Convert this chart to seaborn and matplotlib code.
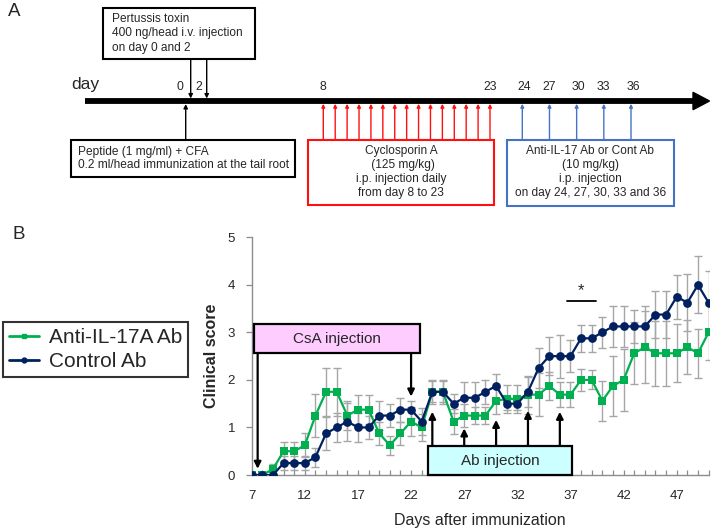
import numpy as np
import pandas as pd
import matplotlib
matplotlib.use("Agg")
import matplotlib.pyplot as plt
import seaborn as sns
from matplotlib.patches import Rectangle, Polygon
from matplotlib.lines import Line2D

# ---------------- data ----------------
days = list(range(7, 51))
anti_il17 = [0, 0, 0.125, 0.5, 0.5, 0.625, 1.25, 1.75, 1.75, 1.25, 1.375, 1.375,
             0.875, 0.625, 0.875, 1.125, 1.0, 1.75, 1.75, 1.125, 1.25, 1.25, 1.25,
             1.56, 1.6, 1.6, 1.69, 1.69, 1.875, 1.69, 1.69, 2.0, 2.0, 1.56, 1.875,
             2.0, 2.56, 2.69, 2.56, 2.56, 2.56, 2.69, 2.56, 3.0]
anti_il17_err = [0, 0, 0.1, 0.2, 0.2, 0.25, 0.45, 0.5, 0.5, 0.3, 0.3, 0.3,
                 0.25, 0.2, 0.24, 0.3, 0.28, 0.25, 0.25, 0.26, 0.25, 0.18, 0.18,
                 0.28, 0.3, 0.3, 0.4, 0.45, 0.3, 0.27, 0.27, 0.23, 0.2, 0.42, 0.63,
                 0.65, 0.65, 0.76, 0.68, 0.68, 0.61, 0.57, 0.52, 0.58]
control = [0, 0, 0, 0.25, 0.25, 0.25, 0.375, 0.875, 1.0, 1.125, 1.0, 1.0,
           1.25, 1.25, 1.375, 1.375, 1.125, 1.75, 1.75, 1.5, 1.625, 1.625, 1.75,
           1.875, 1.5, 1.5, 1.75, 2.25, 2.5, 2.5, 2.5, 2.875, 2.875, 3.0, 3.125,
           3.125, 3.125, 3.125, 3.375, 3.375, 3.75, 3.625, 4.0, 3.625]
control_err = [0, 0, 0, 0.15, 0.15, 0.15, 0.2, 0.35, 0.3, 0.4, 0.3, 0.25,
               0.3, 0.25, 0.25, 0.18, 0.28, 0.22, 0.22, 0.2, 0.33, 0.33, 0.25,
               0.25, 0.14, 0.14, 0.32, 0.43, 0.4, 0.45, 0.34, 0.28, 0.28, 0.32, 0.43,
               0.43, 0.35, 0.43, 0.5, 0.5, 0.46, 0.6, 0.6, 0.67]
series_names = ["Anti-IL-17A Ab", "Control Ab"]
x_tick_labels = [7, 12, 17, 22, 27, 32, 37, 42, 47]
y_tick_labels = [0, 1, 2, 3, 4, 5]

csa_arrow_days = [22]          # CsA injection end arrow in panel B
ab_arrow_days = [24, 27, 30, 33, 36]
ab_arrow_tips = [1.33, 0.98, 1.16, 1.35, 1.33]

# timeline (panel A)
timeline_label_days = [0, 2, 8, 23, 24, 27, 30, 33, 36]
pertussis_days = [0, 2]
ab_timeline_days = [24, 27, 30, 33, 36]

GREEN = "#00B050"
NAVY = "#002060"
RED = "#FF1010"
BLUE = "#4472C4"

sns.set_theme(style="white")
plt.rcParams["font.family"] = ["Liberation Sans", "DejaVu Sans"]

W, H = 714, 529
fig = plt.figure(figsize=(W / 100, H / 100), dpi=100)

# ---------------- panel A (schematic, pixel layout) ----------------
ax0 = fig.add_axes([0, 0, 1, 1])
ax0.set_xlim(0, W)
ax0.set_ylim(H, 0)
ax0.axis("off")


def tpos(d):
    return np.interp(d, [0, 2, 8, 23, 24, 36], [190.7, 206.7, 323.3, 490, 522.3, 631])


bar_y = 101
ax0.plot([85, 694], [bar_y, bar_y], color="black", lw=4.2, solid_capstyle="butt")
ax0.add_patch(Polygon([(693, 92.3), (709.5, bar_y), (693, 109.7)], closed=True,
                      color="black"))
ax0.text(8, 11, "A", fontsize=13.5, va="center", ha="left")
ax0.text(71, 84, "day", fontsize=12.5, va="center", ha="left")

# day labels
label_offsets = {0: -11, 2: -8}
for d in timeline_label_days:
    ax0.text(tpos(d) + label_offsets.get(d, 0) + (2 if d in (24, 30, 36) else 0),
             87.5, str(d), fontsize=8.8, ha="center", va="center")


def arrow(ax, x0, y0, x1, y1, color, lw=1.0, ms=6):
    ax.annotate("", xy=(x1, y1), xytext=(x0, y0),
                arrowprops=dict(arrowstyle="-|>", color=color, lw=lw,
                                mutation_scale=ms, shrinkA=0, shrinkB=0))


FS_A = 8.6
# Pertussis box
ax0.add_patch(Rectangle((103.3, 8.3), 151.7, 51, fill=True, facecolor="white",
                        edgecolor="black", lw=1.5))
for i, t in enumerate(["Pertussis toxin", "400 ng/head i.v. injection",
                       "on day 0 and 2"]):
    ax0.text(111.7, 19 + 14.3 * i, t, fontsize=FS_A, va="center", ha="left")
for d in pertussis_days:
    arrow(ax0, tpos(d), 59.3, tpos(d), 98.5, "black")

# Peptide box
ax0.add_patch(Rectangle((70.7, 140), 224.3, 36.7, facecolor="white",
                        edgecolor="black", lw=1.5))
for i, t in enumerate(["Peptide (1 mg/ml) + CFA",
                       "0.2 ml/head immunization at the tail root"]):
    ax0.text(78.5, 151.5 + 14 * i, t, fontsize=FS_A, va="center", ha="left")
arrow(ax0, tpos(0) - 5, 140, tpos(0) - 5, 104, "black")

# Cyclosporin box
ax0.add_patch(Rectangle((308.3, 140), 185.7, 65, facecolor="white",
                        edgecolor=RED, lw=1.5))
for i, t in enumerate(["Cyclosporin A", " (125 mg/kg)", "i.p. injection daily",
                       "from day 8 to 23"]):
    ax0.text(401, 151 + 14.1 * i, t, fontsize=FS_A, va="center", ha="center")
for x in np.linspace(tpos(8), tpos(23), 15):
    arrow(ax0, x, 140, x, 103.8, RED, lw=1.0, ms=5)

# Antibody box
ax0.add_patch(Rectangle((506.7, 140), 167.6, 65.7, facecolor="white",
                        edgecolor=BLUE, lw=1.5))
for i, t in enumerate(["Anti-IL-17 Ab or Cont Ab", "(10 mg/kg)", "i.p. injection",
                       "on day 24, 27, 30, 33 and 36"]):
    ax0.text(590.5, 151 + 14.1 * i, t, fontsize=FS_A, va="center", ha="center")
for d in ab_timeline_days:
    arrow(ax0, tpos(d), 140, tpos(d), 103.8, BLUE, lw=1.0, ms=5)

ax0.text(12, 234.5, "B", fontsize=13.5, va="center", ha="left")

# ---------------- panel B ----------------
left, right, top, bottom = 251.7, 708.6, 237.3, 475
ax = fig.add_axes([left / W, (H - bottom) / H, (right - left) / W, (bottom - top) / H])

df = pd.DataFrame({
    "day": days * 2,
    "score": anti_il17 + control,
    "err": anti_il17_err + control_err,
    "group": [series_names[0]] * len(days) + [series_names[1]] * len(days),
})

palette = {series_names[0]: GREEN, series_names[1]: NAVY}
for name in series_names:
    sub = df[df["group"] == name]
    ax.errorbar(sub["day"], sub["score"], yerr=sub["err"], fmt="none",
                ecolor="#A6A6A6", elinewidth=1.0, capsize=2.6, capthick=1.0,
                zorder=1)

sns.lineplot(data=df, x="day", y="score", hue="group", style="group",
             markers={series_names[0]: "s", series_names[1]: "o"}, dashes=False,
             palette=palette, hue_order=series_names, style_order=series_names,
             markersize=6.3, markeredgewidth=0, linewidth=1.6, ax=ax,
             legend=False, zorder=3, errorbar=None)

ax.set_xlim(7, 50)
ax.set_ylim(0, 5)
ax.set_xticks(x_tick_labels)
ax.set_xticklabels([str(v) for v in x_tick_labels])
ax.set_xticks(days, minor=True)
ax.set_yticks(y_tick_labels)
ax.set_yticklabels([str(v) for v in y_tick_labels])
for s in ["top", "right"]:
    ax.spines[s].set_visible(False)
for s in ["left", "bottom"]:
    ax.spines[s].set_color("#8C8C8C")
    ax.spines[s].set_linewidth(1.0)
ax.tick_params(axis="x", which="both", direction="in", length=3.5, color="#8C8C8C",
               width=0.9, labelsize=9.5, pad=11, bottom=True)
ax.tick_params(axis="y", which="major", direction="out", length=4, color="#8C8C8C",
               width=0.9, labelsize=9.5, pad=8, left=True)
ax.set_xlabel("Days after immunization", fontsize=11.5, labelpad=8)
ax.set_ylabel("Clinical score", fontsize=11.5, fontweight="bold", labelpad=6)
ax.patch.set_alpha(0)
ax.grid(False)

# CsA injection box
ax.add_patch(Rectangle((7.24, 2.57), 22.84 - 7.24, 0.6, facecolor="#FFCCFF",
                       edgecolor="black", lw=1.6, zorder=5, clip_on=False))
ax.text((7.24 + 22.84) / 2, 2.87, "CsA injection", fontsize=11, ha="center",
        va="center", zorder=6)
arrow(ax, 7.56, 2.57, 7.56, 0.13, "black", lw=1.6, ms=10)
for d in csa_arrow_days:
    arrow(ax, d, 2.57, d, 1.65, "black", lw=1.6, ms=10)

# Ab injection box
ax.add_patch(Rectangle((23.56, 0.0), 37.17 - 23.56, 0.6, facecolor="#CCFFFF",
                       edgecolor="black", lw=1.6, zorder=5, clip_on=False))
ax.text((23.56 + 37.17) / 2, 0.3, "Ab injection", fontsize=11, ha="center",
        va="center", zorder=6)
for d, tip in zip(ab_arrow_days, ab_arrow_tips):
    arrow(ax, d, 0.6, d, tip, "black", lw=1.6, ms=10)

# significance
ax.plot([36.65, 39.4], [3.67, 3.67], color="black", lw=1.3)
ax.text(38.0, 3.72, "*", fontsize=12, ha="center", va="bottom")

# legend
handles = [Line2D([0], [0], color=GREEN, marker="s", markersize=3.5, lw=2.0),
           Line2D([0], [0], color=NAVY, marker="o", markersize=3.5, lw=2.0)]
leg = fig.legend(handles, series_names, loc="upper left",
                 bbox_to_anchor=(2.7 / W, 1 - 321.7 / H), fontsize=15,
                 frameon=True, fancybox=False, edgecolor="black",
                 handlelength=1.45, handletextpad=0.45, borderpad=0.3,
                 labelspacing=0.25, borderaxespad=0)
leg.get_frame().set_linewidth(1.5)

fig.savefig("out.png", dpi=100)
